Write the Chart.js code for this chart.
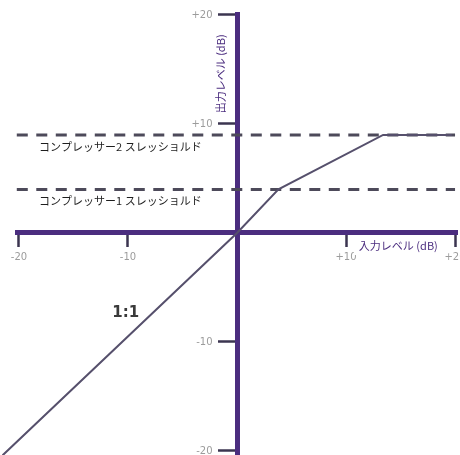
<!DOCTYPE html>
<html>
<head>
<meta charset="utf-8">
<script src="https://cdn.jsdelivr.net/npm/chart.js@4"></script>
<style>
  html, body { margin: 0; padding: 0; background: #ffffff; }
  #wrap { width: 460px; height: 455px; }
</style>
</head>
<body>
<div id="wrap"><canvas id="c" width="460" height="455"></canvas></div>
<script>
// ---- data ----
const inputLevels  = [-21.5, 0, 3.8, 13.4, 19.7];   // 入力レベル (dB)
const outputLevels = [-20.4, 0, 4.0, 9.0, 9.0];     // 出力レベル (dB)
const thresholdLevels = [4.0, 9.0];                 // コンプレッサー1, コンプレッサー2
const thresholdSpan = [-20.2, 20.0];                // x extent of the dashed lines
const xTickValues = [-20, -10, 10, 20];
const xTickLabels = ['-20', '-10', '+10', '+20'];
const yTickValues = [20, 10, -10, -20];
const yTickLabels = ['+20', '+10', '-10', '-20'];
const thresholdNames = ['コンプレッサー1 スレッショルド', 'コンプレッサー2 スレッショルド'];
const xAxisTitle = '入力レベル (dB)';
const yAxisTitle = '出力レベル (dB)';
const ratioLabel = '1:1';

// ---- styling ----
const AXIS = '#4b2d7f';
const TICK = '#3b3550';
const TICKTXT = '#9c9c9c';
const CURVE = '#56506c';
const DASH = '#4d4a5a';
const Y_TICK_LEN = 17;

const jpFont = '"Noto Sans CJK JP", "Noto Sans", sans-serif';
const tickFont = '10px "DejaVu Sans", sans-serif';

const annotations = [
  { text: thresholdNames[1], x: -10.7, y: 7.9, font: '11px ' + jpFont, color: '#1e1e1e', box: true },
  { text: thresholdNames[0], x: -10.7, y: 2.95, font: '11px ' + jpFont, color: '#1e1e1e', box: true },
  { text: xAxisTitle, x: 14.8, y: -1.2, font: '11px ' + jpFont, color: AXIS, box: true },
  { text: yAxisTitle, x: -1.5, y: 14.6, font: '11px ' + jpFont, color: AXIS, box: true, rot: -Math.PI / 2 },
  { text: ratioLabel, x: -10.2, y: -7.35, font: 'bold 15px "DejaVu Sans", sans-serif', color: '#3a3a3a', box: false }
];

const labelPlugin = {
  id: 'labels',
  afterDraw(chart) {
    const { ctx, scales: { x, y } } = chart;
    // y tick labels, to the left of the tick marks
    const axisX = x.getPixelForValue(0);
    ctx.save();
    ctx.font = tickFont;
    ctx.fillStyle = TICKTXT;
    ctx.textAlign = 'right';
    ctx.textBaseline = 'middle';
    y.ticks.forEach(t => {
      const lbl = yTickLabels[yTickValues.indexOf(t.value)];
      ctx.fillText(lbl, axisX - 2.5 - Y_TICK_LEN - 5, y.getPixelForValue(t.value));
    });
    ctx.restore();

    annotations.forEach(a => {
      ctx.save();
      ctx.font = a.font;
      ctx.translate(x.getPixelForValue(a.x), y.getPixelForValue(a.y));
      if (a.rot) ctx.rotate(a.rot);
      const w = ctx.measureText(a.text).width;
      if (a.box) {
        ctx.fillStyle = '#ffffff';
        ctx.fillRect(-w / 2 - 5, -9, w + 10, 18);
      }
      ctx.fillStyle = a.color;
      ctx.textAlign = 'center';
      ctx.textBaseline = 'middle';
      ctx.fillText(a.text, 0, 0);
      ctx.restore();
    });
  }
};

const curve = inputLevels.map((v, i) => ({ x: v, y: outputLevels[i] }));
const thresholdSets = thresholdLevels.map(t => ({
  data: [{ x: thresholdSpan[0], y: t }, { x: thresholdSpan[1], y: t }],
  borderColor: DASH,
  borderWidth: 3,
  borderDash: [11, 8.5],
  pointRadius: 0,
  clip: false
}));

new Chart(document.getElementById('c'), {
  type: 'line',
  data: {
    datasets: [
      { data: curve, borderColor: CURVE, borderWidth: 2, pointRadius: 0, tension: 0, clip: false },
      ...thresholdSets
    ]
  },
  options: {
    responsive: false,
    animation: false,
    events: [],
    layout: { padding: { left: 17, right: 3, top: 14, bottom: 0 } },
    plugins: { legend: { display: false }, tooltip: { enabled: false } },
    scales: {
      x: {
        type: 'linear',
        min: -20.18, max: 20.18,
        position: { y: 0 },
        afterFit(s) { s.height = 0; s.paddingLeft = 0; s.paddingRight = 0; },
        afterBuildTicks(s) { s.ticks = xTickValues.map(v => ({ value: v })); },
        border: { display: true, color: AXIS, width: 5 },
        grid: { drawOnChartArea: false, drawTicks: true, tickLength: 12, tickColor: TICK, tickWidth: 2.5 },
        ticks: {
          autoSkip: false, maxRotation: 0, padding: 6,
          color: TICKTXT, font: { size: 10, family: '"DejaVu Sans", sans-serif' },
          callback: (v) => xTickLabels[xTickValues.indexOf(v)]
        }
      },
      y: {
        type: 'linear',
        min: -20.37, max: 20.09,
        position: { x: 0 },
        afterFit(s) { s.width = 0; s.paddingTop = 0; s.paddingBottom = 0; },
        afterBuildTicks(s) { s.ticks = yTickValues.map(v => ({ value: v })); },
        border: { display: true, color: AXIS, width: 5 },
        grid: { drawOnChartArea: false, drawTicks: true, tickLength: Y_TICK_LEN, tickColor: TICK, tickWidth: 2.5 },
        ticks: { display: false }
      }
    }
  },
  plugins: [labelPlugin]
});
</script>
</body>
</html>
